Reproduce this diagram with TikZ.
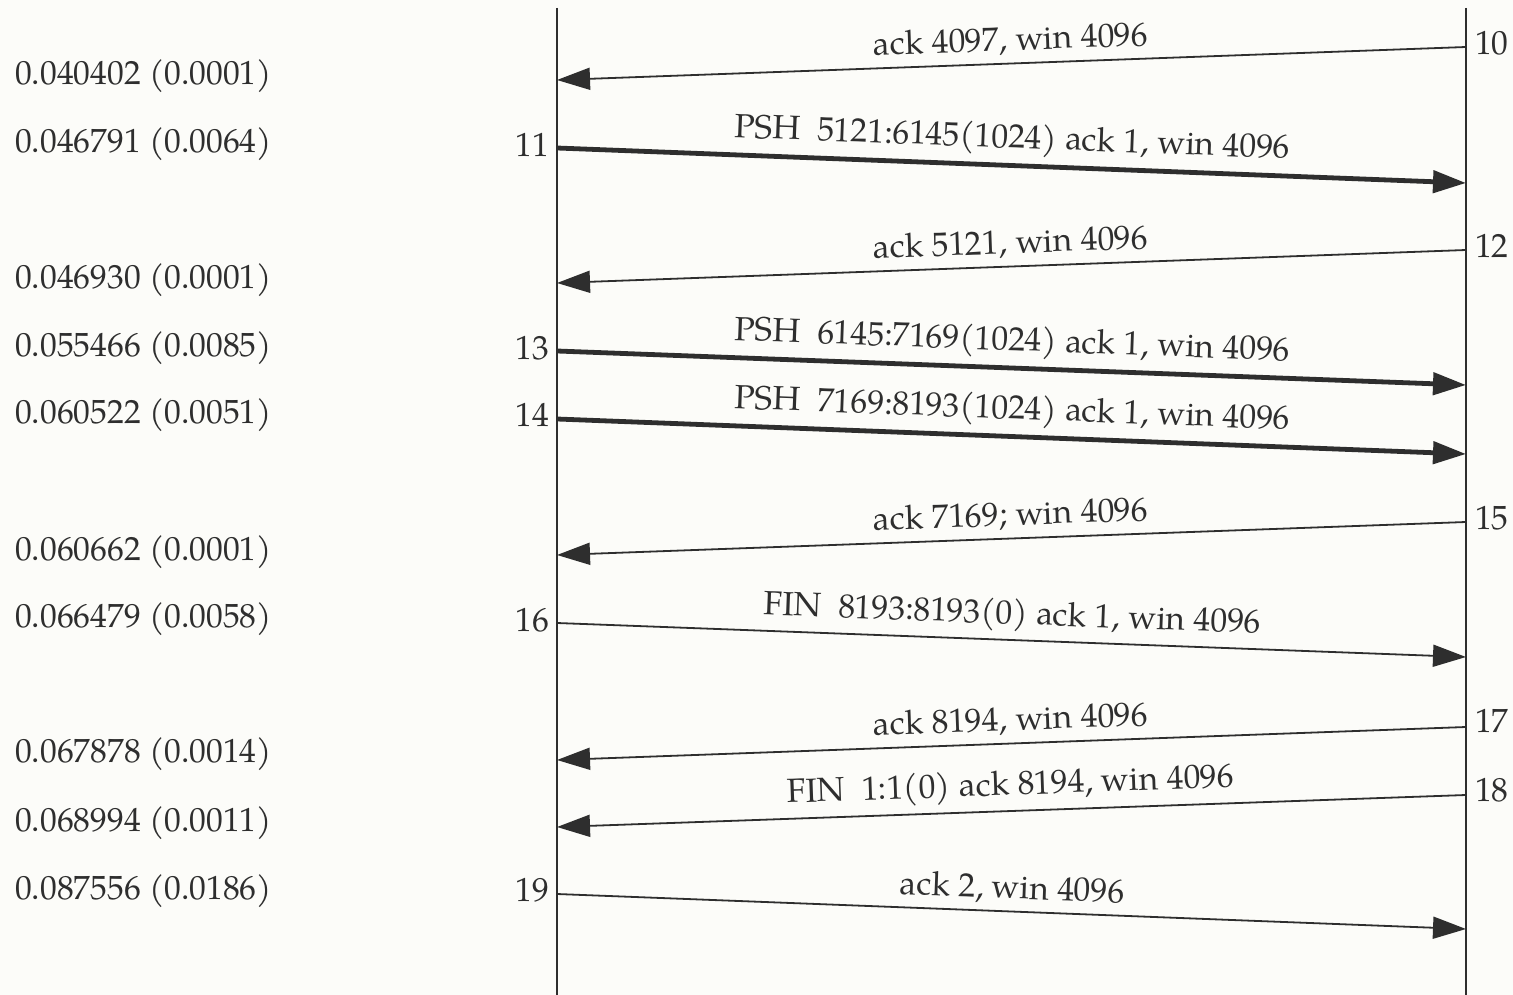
\documentclass[tikz,border=0pt]{standalone}
\usepackage{fontspec}
\setmainfont{texgyrepagella-regular.otf}
\usepackage{tikz}
\usetikzlibrary{arrows.meta,positioning,calc}
\definecolor{Paper}{HTML}{FCFCF9}
\definecolor{Ink}{HTML}{2E2E2E}

\begin{document}
\begin{tikzpicture}[x=1pt,y=-1pt, every node/.style={font=\fontsize{33.5}{40}\selectfont,text=Ink},
 lane/.style={draw=Ink,line width=1.6pt},
 msg/.style={draw=Ink,line width=1.8pt,-{Triangle[length=33pt,width=22pt]}},
 bulk/.style={msg,line width=4.8pt},
 lbl/.style={sloped,above,inner sep=7pt},
 tm/.style={anchor=west,inner sep=0pt},
 cnum/.style={anchor=east,inner sep=0pt},
 snum/.style={anchor=west,inner sep=0pt}]
\fill[Paper] (0,0) rectangle (1513,995);
\useasboundingbox (0,0) rectangle (1513,995);
% the two ends
\coordinate (ct) at (557,8); \coordinate (cb) at (557,995);
\coordinate (st) at (1466,8); \coordinate (sb) at (1466,995);
\draw[lane] (ct)--(cb); \draw[lane] (st)--(sb);
% segment end points
\coordinate (s10) at (1466,47);  \coordinate (c10) at (557,80);
\coordinate (c11) at (557,148);  \coordinate (s11) at (1466,183);
\coordinate (s12) at (1466,250); \coordinate (c12) at (557,283);
\coordinate (c13) at (557,351);  \coordinate (s13) at (1466,385);
\coordinate (c14) at (557,419);  \coordinate (s14) at (1466,454);
\coordinate (s15) at (1466,522); \coordinate (c15) at (557,555);
\coordinate (c16) at (557,623);  \coordinate (s16) at (1466,657);
\coordinate (s17) at (1466,727); \coordinate (c17) at (557,760);
\coordinate (s18) at (1466,795); \coordinate (c18) at (557,827);
\coordinate (c19) at (557,894);  \coordinate (s19) at (1466,929);
% segments
\draw[msg] (s10)--(c10) node[lbl,midway] (m10) {ack 4097, win 4096};
\draw[bulk] (c11)--(s11) node[lbl,midway] (m11) {PSH\ \ 5121:6145(1024) ack 1, win 4096};
\draw[msg] (s12)--(c12) node[lbl,midway] (m12) {ack 5121, win 4096};
\draw[bulk] (c13)--(s13) node[lbl,midway] (m13) {PSH\ \ 6145:7169(1024) ack 1, win 4096};
\draw[bulk] (c14)--(s14) node[lbl,midway] (m14) {PSH\ \ 7169:8193(1024) ack 1, win 4096};
\draw[msg] (s15)--(c15) node[lbl,midway] (m15) {ack 7169; win 4096};
\draw[msg] (c16)--(s16) node[lbl,midway] (m16) {FIN\ \ 8193:8193(0) ack 1, win 4096};
\draw[msg] (s17)--(c17) node[lbl,midway] (m17) {ack 8194, win 4096};
\draw[msg] (s18)--(c18) node[lbl,midway] (m18) {FIN\ \ 1:1(0) ack 8194, win 4096};
\draw[msg] (c19)--(s19) node[lbl,midway] (m19) {ack 2, win 4096};
% segment numbers
\node[snum] (n10) at (1475,43) {10};
\node[cnum] (n11) at (549,145) {11};
\node[snum] (n12) at (1475,246) {12};
\node[cnum] (n13) at (549,348) {13};
\node[cnum] (n14) at (549,415) {14};
\node[snum] (n15) at (1475,518) {15};
\node[cnum] (n16) at (549,620) {16};
\node[snum] (n17) at (1475,721) {17};
\node[snum] (n18) at (1475,790) {18};
\node[cnum] (n19) at (549,890) {19};
% times
\node[tm] (t10) at (15,76) {0.040402 (0.0001)};
\node[tm] (t11) at (15,144) {0.046791 (0.0064)};
\node[tm] (t12) at (15,280) {0.046930 (0.0001)};
\node[tm] (t13) at (15,348) {0.055466 (0.0085)};
\node[tm] (t14) at (15,415) {0.060522 (0.0051)};
\node[tm] (t15) at (15,552) {0.060662 (0.0001)};
\node[tm] (t16) at (15,619) {0.066479 (0.0058)};
\node[tm] (t17) at (15,754) {0.067878 (0.0014)};
\node[tm] (t18) at (15,823) {0.068994 (0.0011)};
\node[tm] (t19) at (15,891) {0.087556 (0.0186)};
\end{tikzpicture}
\end{document}
